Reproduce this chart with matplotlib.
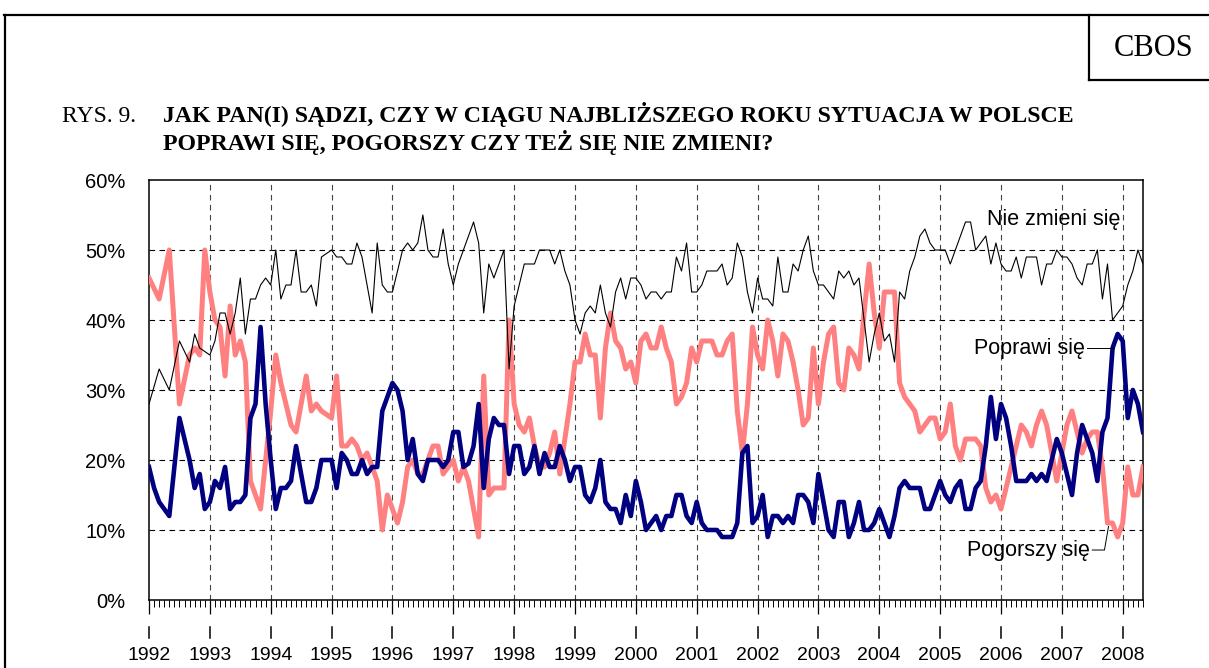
import numpy as np
import matplotlib
matplotlib.use("Agg")
import matplotlib.pyplot as plt
import matplotlib.transforms as mtransforms
from matplotlib.lines import Line2D
from matplotlib.ticker import MultipleLocator, FuncFormatter

# --- dane: odsetki miesięczne, styczeń 1992 - maj 2008 ---
lata = list(range(1992, 2009))

nie_zmieni = [
    28, 30.5, 33, 31.5, 30, 33.5, 37, 35.5, 34, 38, 36, 35.5,   # 1992
    35, 37, 41, 41, 38, 41, 46, 38, 43, 43, 45, 46,             # 1993
    45, 50, 43, 45, 45, 50, 44, 44, 45, 42, 49, 49.5,           # 1994
    50, 49, 49, 48, 48, 51, 49, 45, 41, 51, 45, 44,             # 1995
    44, 47, 50, 51, 50, 51, 55, 50, 49, 49, 53, 48,             # 1996
    45, 48, 50, 52, 54, 51, 41, 48, 46, 48, 50, 33,             # 1997
    42, 45, 48, 48, 48, 50, 50, 50, 48, 50, 47, 45,             # 1998
    40, 38, 41, 42, 41, 45, 41, 39, 44, 46, 43, 46,             # 1999
    46, 45, 43, 44, 44, 43, 44, 44, 49, 47, 51, 44,             # 2000
    44, 45, 47, 47, 47, 48, 45, 46, 51, 49, 44, 41,             # 2001
    46, 43, 43, 42, 49, 44, 44, 48, 47, 50, 52, 47,             # 2002
    45, 45, 44, 43, 47, 46, 47, 45, 46, 40, 34, 38,             # 2003
    41, 37, 38, 34, 44, 43, 47, 49, 52, 53, 51, 50,             # 2004
    50, 50, 48, 50, 52, 54, 54, 50, 51, 52, 48, 51,             # 2005
    48, 47, 47, 49, 46, 49, 49, 49, 45, 48, 48, 50,             # 2006
    49, 49, 48, 46, 45, 48, 48, 50, 43, 48, 40, 41,             # 2007
    42, 45, 47, 50, 48,                                         # 2008
]

pogorszy = [
    46, 44.5, 43, 46.5, 50, 39, 28, 31.5, 35, 36, 35, 50,       # 1992
    44, 40, 39, 32, 42, 35, 37, 34, 17, 15, 13, 20,             # 1993
    27, 35, 31, 28, 25, 24, 28, 32, 27, 28, 27, 26.5,           # 1994
    26, 32, 22, 22, 23, 22, 20, 21, 19, 17, 10, 15,             # 1995
    13, 11, 14, 19, 20, 18, 18, 20, 22, 22, 18, 19,             # 1996
    20, 17, 19, 17, 13, 9, 32, 15, 16, 16, 16, 40,              # 1997
    28, 25, 24, 26, 22, 19, 19, 21, 24, 18, 23, 28,             # 1998
    34, 34, 38, 35, 35, 26, 36, 41, 37, 36, 33, 34,             # 1999
    31, 37, 38, 36, 36, 39, 36, 34, 28, 29, 31, 36,             # 2000
    34, 37, 37, 37, 35, 35, 37, 38, 27, 21, 28, 39,             # 2001
    35, 33, 40, 37, 32, 38, 37, 34, 30, 25, 26, 36,             # 2002
    28, 34, 38, 39, 31, 30, 36, 35, 33, 41, 48, 41,             # 2003
    36, 44, 44, 44, 31, 29, 28, 27, 24, 25, 26, 26,             # 2004
    23, 24, 28, 22, 20, 23, 23, 23, 22, 16, 14, 15,             # 2005
    13, 16, 19, 22, 25, 24, 22, 25, 27, 25, 21, 17,             # 2006
    21, 25, 27, 24, 21, 23, 24, 24, 19, 11, 11, 9,              # 2007
    11, 19, 15, 15, 19,                                         # 2008
]

poprawi = [
    19, 16, 14, 13, 12, 19, 26, 23, 20, 16, 18, 13,             # 1992
    14, 17, 16, 19, 13, 14, 14, 15, 26, 28, 39, 28,             # 1993
    20, 13, 16, 16, 17, 22, 18, 14, 14, 16, 20, 20,             # 1994
    20, 16, 21, 20, 18, 18, 20, 18, 19, 19, 27, 29,             # 1995
    31, 30, 27, 20, 23, 18, 17, 20, 20, 20, 19, 20,             # 1996
    24, 24, 19, 19.5, 22, 28, 16, 23, 26, 25, 25, 18,           # 1997
    22, 22, 18, 19, 22, 18, 21, 19, 19, 22, 20, 17,             # 1998
    19, 19, 15, 14, 16, 20, 14, 13, 13, 11, 15, 12,             # 1999
    17, 14, 10, 11, 12, 10, 12, 12, 15, 15, 12, 11,             # 2000
    14, 11, 10, 10, 10, 9, 9, 9, 11, 21, 22, 11,                # 2001
    12, 15, 9, 12, 12, 11, 12, 11, 15, 15, 14, 11,              # 2002
    18, 14, 10, 9, 14, 14, 9, 11, 14, 10, 10, 11,               # 2003
    13, 11, 9, 12, 16, 17, 16, 16, 16, 13, 13, 15,              # 2004
    17, 15, 14, 16, 17, 13, 13, 16, 17, 22, 29, 23,             # 2005
    28, 26, 22, 17, 17, 17, 18, 17, 18, 17, 20, 23,             # 2006
    21, 18, 15, 21, 25, 23, 21, 17, 24, 26, 36, 38,             # 2007
    37, 26, 30, 28, 24,                                         # 2008
]

SANS = "Liberation Sans"
SERIF = "Liberation Serif"

W, H = 1209, 668
fig = plt.figure(figsize=(W / 100, H / 100), dpi=100)
fig.patch.set_facecolor("white")


def px_line(x1, y1, x2, y2, lw=1.6):
    # linia w pikselach obrazka (ramka, pudełko CBOS)
    fig.add_artist(Line2D([x1 / W, x2 / W], [1 - y1 / H, 1 - y2 / H],
                          transform=fig.transFigure, color="black", lw=lw))


# ramka strony
px_line(4, 15, W, 15)
px_line(5, 15, 5, H)
px_line(1089, 15, 1089, 80)
px_line(1089, 80, W, 80)
fig.text(1154 / W, 1 - 56 / H, "CBOS", family=SERIF, fontsize=22,
         ha="center", va="baseline")

# tytuł
fig.text(62 / W, 1 - 122 / H, "RYS. 9.", family=SERIF, fontsize=17, va="baseline")
fig.text(163 / W, 1 - 122 / H,
         "JAK PAN(I) SĄDZI, CZY W CIĄGU NAJBLIŻSZEGO ROKU SYTUACJA W POLSCE",
         family=SERIF, fontsize=17.2, fontweight="bold", va="baseline")
fig.text(163 / W, 1 - 150 / H, "POPRAWI SIĘ, POGORSZY CZY TEŻ SIĘ NIE ZMIENI?",
         family=SERIF, fontsize=17.2, fontweight="bold", va="baseline")

# wykres
ax = fig.add_axes([149 / W, 1 - 600 / H, (1143 - 149) / W, 420 / H])
x = np.arange(len(poprawi))

ax.plot(x, np.array(pogorszy) / 100, color="#FF8080", lw=3.6, zorder=3)
ax.plot(x, np.array(poprawi) / 100, color="#000080", lw=3.3, zorder=4)
ax.plot(x, np.array(nie_zmieni) / 100, color="black", lw=0.8, zorder=5)

ax.set_xlim(0, len(poprawi) - 1)
ax.set_ylim(0, 0.6)

# siatka przerywana
for yv in np.arange(0.1, 0.55, 0.1):
    ax.axhline(yv, color="black", lw=0.8, ls=(0, (5, 4)), zorder=1)
for i in range(1, len(lata)):
    ax.axvline(12 * i, color="#444444", lw=0.8, ls=(0, (5, 4)), zorder=1)

ax.set_xticks(range(0, len(poprawi), 12))
ax.xaxis.set_minor_locator(MultipleLocator(1))
ax.tick_params(axis="x", which="major", length=10, width=0.9, direction="out",
               labelbottom=False)
ax.tick_params(axis="x", which="minor", length=5, width=0.7, direction="out")

ax.set_yticks(np.arange(0, 0.61, 0.1))
ax.yaxis.set_major_formatter(FuncFormatter(lambda v, p: f"{v * 100:.0f}%"))
ax.tick_params(axis="y", length=0, pad=17, labelsize=14.5)
for lab in ax.get_yticklabels():
    lab.set_family(SANS)

for sp in ax.spines.values():
    sp.set_linewidth(1.1)
    sp.set_color("black")

# etykiety lat z kreskami nad nimi
trans = mtransforms.blended_transform_factory(ax.transData, ax.transAxes)
for i, rok in enumerate(lata):
    ax.plot([12 * i, 12 * i], [-0.064, -0.091], transform=trans, color="black",
            lw=1.1, clip_on=False)
    ax.text(12 * i, -0.131, str(rok), transform=trans, ha="center", va="center",
            family=SANS, fontsize=14)

# opisy serii
ax.text(165.2, 0.544, "Nie zmieni się", family=SANS, fontsize=15.5,
        ha="left", va="center")
ax.text(184.5, 0.36, "Poprawi się", family=SANS, fontsize=15.5,
        ha="right", va="center")
ax.plot([185.0, 190.3], [0.36, 0.36], color="black", lw=0.7, clip_on=False, zorder=6)
ax.text(185.6, 0.0714, "Pogorszy się", family=SANS, fontsize=15.5,
        ha="right", va="center")
ax.plot([186.0, 188.4, 189.2], [0.0714, 0.0714, 0.105], color="black", lw=0.7,
        clip_on=False, zorder=6)

fig.savefig("out.png", dpi=100)
plt.close(fig)
